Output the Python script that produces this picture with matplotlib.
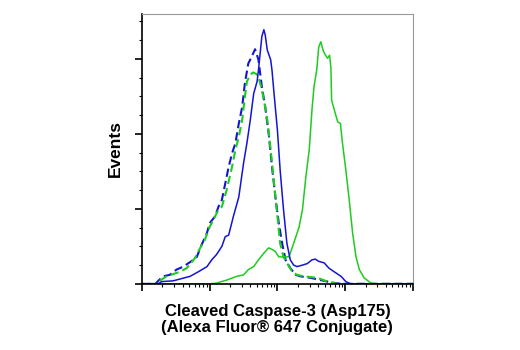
import numpy as np
import matplotlib
matplotlib.use('Agg')
import matplotlib.pyplot as plt
from matplotlib.ticker import MultipleLocator, NullFormatter

# x in log decades, y in arbitrary event units
blue_x = [0.00, 0.24, 0.29, 0.46, 0.71, 0.83, 0.96, 1.03, 1.10, 1.18, 1.23, 1.28, 1.35, 1.43, 1.50, 1.55,
          1.60, 1.65, 1.70, 1.72, 1.75, 1.77, 1.80, 1.82, 1.85, 1.90, 1.92, 1.95, 2.00, 2.04, 2.09, 2.14,
          2.19, 2.24, 2.29, 2.37, 2.44, 2.51, 2.56, 2.61, 2.69, 2.76, 2.84, 2.94, 3.01, 3.08, 4.00]
blue_y = [0.00, 0.00, 0.03, 0.04, 0.10, 0.16, 0.23, 0.32, 0.39, 0.50, 0.63, 0.65, 0.90, 1.16, 1.61, 1.88,
          2.19, 2.54, 2.70, 2.85, 3.12, 3.30, 3.39, 3.32, 3.12, 2.99, 2.85, 2.54, 2.05, 1.52, 0.99, 0.54,
          0.32, 0.25, 0.23, 0.25, 0.27, 0.32, 0.33, 0.30, 0.28, 0.21, 0.16, 0.10, 0.03, 0.00, 0.00]

green_x = [0.00, 1.00, 1.10, 1.25, 1.40, 1.50, 1.57, 1.65, 1.72, 1.80, 1.87, 1.92, 1.97, 2.02, 2.09, 2.17,
           2.24, 2.32, 2.37, 2.42, 2.47, 2.51, 2.54, 2.58, 2.61, 2.64, 2.68, 2.71, 2.74, 2.77, 2.79, 2.80,
           2.84, 2.89, 2.93, 2.96, 3.01, 3.06, 3.11, 3.16, 3.21, 3.28, 3.38, 3.48, 4.00]
green_y = [0.00, 0.00, 0.01, 0.05, 0.10, 0.12, 0.19, 0.23, 0.32, 0.41, 0.48, 0.46, 0.43, 0.36, 0.36, 0.36,
           0.54, 0.76, 0.99, 1.43, 1.79, 2.32, 2.63, 2.85, 3.16, 3.23, 3.10, 3.05, 3.01, 3.05, 2.88, 2.45,
           2.32, 2.16, 2.14, 1.88, 1.52, 1.12, 0.68, 0.36, 0.19, 0.08, 0.01, 0.00, 0.00]

blue_iso_x = [0.00, 0.20, 0.24, 0.31, 0.41, 0.51, 0.61, 0.76, 0.81, 0.88, 0.96, 1.00, 1.08, 1.13, 1.18, 1.23,
              1.28, 1.33, 1.38, 1.43, 1.48, 1.52, 1.57, 1.62, 1.67, 1.72, 1.77, 1.82, 1.87, 1.92, 1.97, 2.02,
              2.07, 2.12, 2.19, 2.27, 2.34, 2.49, 2.64, 2.79, 2.94, 4.00]
blue_iso_y = [0.00, 0.00, 0.04, 0.10, 0.12, 0.19, 0.23, 0.32, 0.36, 0.52, 0.68, 0.81, 0.90, 1.03, 1.12, 1.34,
              1.56, 1.74, 1.88, 2.14, 2.36, 2.68, 2.94, 3.03, 3.13, 2.99, 2.63, 2.36, 2.01, 1.56, 1.16, 0.81,
              0.54, 0.32, 0.21, 0.12, 0.10, 0.08, 0.05, 0.02, 0.00, 0.00]

green_iso_x = [0.00, 0.20, 0.26, 0.36, 0.56, 0.66, 0.78, 0.86, 0.93, 1.00, 1.13, 1.18, 1.25, 1.33, 1.38, 1.43,
               1.48, 1.52, 1.55, 1.60, 1.64, 1.69, 1.72, 1.77, 1.82, 1.85, 1.90, 1.95, 2.00, 2.04, 2.09, 2.14,
               2.22, 2.29, 2.39, 2.59, 2.74, 2.89, 4.00]
green_iso_y = [0.00, 0.00, 0.04, 0.10, 0.16, 0.21, 0.34, 0.48, 0.59, 0.76, 0.99, 1.03, 1.25, 1.56, 1.79, 1.96,
               2.19, 2.50, 2.70, 2.79, 2.82, 2.80, 2.76, 2.59, 2.36, 2.19, 1.79, 1.34, 0.90, 0.54, 0.36, 0.28,
               0.16, 0.12, 0.10, 0.08, 0.03, 0.00, 0.00]

BLUE = '#1414D2'
GREEN = '#1FCB1F'

plt.rcParams['font.family'] = ['Liberation Sans', 'DejaVu Sans']

fig = plt.figure(figsize=(5.2, 3.5), dpi=100)
ax = fig.add_axes([0.273, 0.189, 0.521, 0.771])

ax.plot(10 ** np.array(blue_iso_x), blue_iso_y, color=BLUE, lw=1.5, ls=(0, (4, 2)))
ax.plot(10 ** np.array(green_iso_x), green_iso_y, color=GREEN, lw=1.5, ls=(3, (4, 2)))
ax.plot(10 ** np.array(green_x), green_y, color=GREEN, lw=1.1)
ax.plot(10 ** np.array(blue_x), blue_y, color=BLUE, lw=1.1)

ax.set_xscale('log')
ax.set_xlim(1, 1e4)
ax.set_ylim(0, 3.6)
ax.yaxis.set_major_locator(MultipleLocator(1))
ax.yaxis.set_minor_locator(MultipleLocator(0.25))
ax.xaxis.set_major_formatter(NullFormatter())
ax.xaxis.set_minor_formatter(NullFormatter())
ax.yaxis.set_major_formatter(NullFormatter())

ax.tick_params(which='major', direction='out', length=5, width=1.2, color='black')
ax.tick_params(which='minor', direction='out', length=2.5, width=0.8, color='black')
ax.tick_params(top=False, right=False)

for s in ['top', 'right']:
    ax.spines[s].set_color('#999999')
    ax.spines[s].set_linewidth(0.8)
for s in ['left', 'bottom']:
    ax.spines[s].set_color('black')
    ax.spines[s].set_linewidth(1.2)

ax.set_ylabel('Events', fontsize=12.5, fontweight='bold', labelpad=5)
ax.set_xlabel('Cleaved Caspase-3 (Asp175)\n(Alexa Fluor® 647 Conjugate)', fontsize=12,
              fontweight='bold', labelpad=6, linespacing=1.05)

fig.savefig('out.png', dpi=100)
